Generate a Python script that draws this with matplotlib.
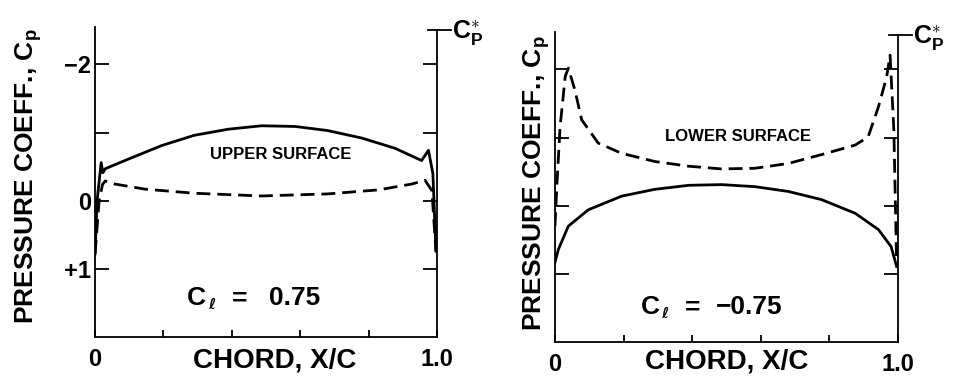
import matplotlib
matplotlib.use("Agg")
import matplotlib.pyplot as plt

plt.rcParams['font.family'] = ['Liberation Sans', 'DejaVu Sans']
plt.rcParams['font.weight'] = 'bold'
plt.rcParams['mathtext.fontset'] = 'custom'
plt.rcParams['mathtext.rm'] = 'Liberation Sans:bold'
plt.rcParams['mathtext.it'] = 'Liberation Sans:bold'
plt.rcParams['mathtext.bf'] = 'Liberation Sans:bold'
plt.rcParams['lines.scale_dashes'] = False

# ---- Cl = 0.75 : upper surface (solid), lower surface (dashed)
up1_x = [0.0, 0.006, 0.018, 0.023, 0.03, 0.097, 0.195, 0.29, 0.39, 0.487, 0.585,
         0.68, 0.78, 0.877, 0.955, 0.975, 0.988, 0.997]
up1_cp = [0.78, 0.0, -0.56, -0.41, -0.47, -0.61, -0.81, -0.96, -1.05, -1.10, -1.09,
          -1.03, -0.92, -0.77, -0.59, -0.74, -0.40, 0.74]
lo1_x = [0.0, 0.012, 0.022, 0.03, 0.058, 0.146, 0.29, 0.487, 0.68, 0.83, 0.926,
         0.965, 0.985, 0.997]
lo1_cp = [0.78, 0.0, -0.24, -0.29, -0.245, -0.17, -0.11, -0.07, -0.10, -0.16, -0.245,
          -0.30, -0.15, 0.74]

# ---- Cl = -0.75 : upper surface (dashed), lower surface (solid)
up2_x = [0.0, 0.006, 0.015, 0.03, 0.039, 0.058, 0.078, 0.126, 0.194, 0.29, 0.39,
         0.486, 0.583, 0.68, 0.777, 0.875, 0.913, 0.943, 0.967, 0.977, 0.988, 0.996]
up2_cp = [0.3, -0.34, -1.16, -1.9, -2.02, -1.70, -1.26, -0.92, -0.77, -0.65, -0.58,
          -0.54, -0.55, -0.62, -0.75, -0.89, -1.01, -1.45, -1.89, -2.21, -1.11, 0.83]
lo2_x = [0.0, 0.01, 0.039, 0.097, 0.194, 0.29, 0.39, 0.486, 0.583, 0.68, 0.777,
         0.875, 0.943, 0.98, 0.996]
lo2_cp = [0.83, 0.64, 0.30, 0.06, -0.14, -0.24, -0.30, -0.31, -0.28, -0.21, -0.09,
          0.11, 0.35, 0.60, 0.89]

cp_star = -2.5
y_ticks = [-2, -1, 0, 1]
y_ticklabels = ['\u22122', '', '0', '+1']
x_ticks = [0, 0.2, 0.4, 0.6, 0.8, 1.0]
x_ticklabels = ['0', '', '', '', '', '1.0']

fig = plt.figure(figsize=(9.56, 3.79), dpi=100)
ax1 = fig.add_axes([0.0994, 0.1108, 0.3577, 0.8180])
ax2 = fig.add_axes([0.5805, 0.0976, 0.3588, 0.8180])

LW = 2.0
DASH = (10, 5)


def style(ax, show_ylabels):
    ax.set_xlim(0, 1.0)
    ax.set_ylim(2.0, -2.55)
    ax.spines['top'].set_visible(False)
    for s in ['left', 'bottom', 'right']:
        ax.spines[s].set_linewidth(1.3)
    ax.spines['right'].set_bounds(2.0, cp_star)
    ax.set_xticks(x_ticks)
    ax.set_xticklabels(x_ticklabels, fontsize=17, fontweight='bold')
    ax.set_yticks(y_ticks)
    if show_ylabels:
        ax.set_yticklabels(y_ticklabels, fontsize=17, fontweight='bold')
    else:
        ax.set_yticklabels([])
    ax.tick_params(axis='y', direction='in', length=10, width=1.3, right=True, pad=3)
    ax.tick_params(axis='x', direction='in', length=5, width=1.3, pad=8)
    ax.set_xlabel('CHORD, X/C', fontsize=20, fontweight='bold', labelpad=-20)
    ax.set_ylabel('PRESSURE COEFF., C$_{\\mathrm{p}}$', fontsize=19, fontweight='bold')
    # critical pressure coefficient marker on the right axis
    ax.plot([0.975, 1.04], [cp_star, cp_star], color='black', lw=1.3, clip_on=False)
    ax.text(1.045, cp_star + 0.05, 'C$_{\\mathrm{P}}^{\\ast}$', fontsize=18, fontweight='bold',
            ha='left', va='center', transform=ax.transData, clip_on=False)


style(ax1, True)
style(ax2, False)
ax1.yaxis.set_label_coords(-0.15, 0.52)
ax2.yaxis.set_label_coords(-0.01, 0.513)
ax1.xaxis.set_label_coords(0.525, -0.035)

ax1.plot(up1_x, up1_cp, color='black', lw=LW, solid_joinstyle='round')
ax1.plot(lo1_x, lo1_cp, color='black', lw=LW, dashes=DASH)
ax1.text(0.544, -0.68, 'UPPER SURFACE', fontsize=12, fontweight='bold', ha='center', va='center')
ax1.text(0.27, 1.43, 'C', fontsize=19, fontweight='bold', ha='left', va='center')
ax1.text(0.33, 1.52, '\u2113', fontsize=11, fontweight='bold', ha='left', va='center',
         family=['DejaVu Sans'])
ax1.text(0.40, 1.43, '=', fontsize=19, fontweight='bold', ha='left', va='center')
ax1.text(0.51, 1.43, '0.75', fontsize=19, fontweight='bold', ha='left', va='center')

ax2.plot(up2_x, up2_cp, color='black', lw=LW, dashes=DASH)
ax2.plot(lo2_x, lo2_cp, color='black', lw=LW, solid_joinstyle='round')
ax2.text(0.534, -1.02, 'LOWER SURFACE', fontsize=12, fontweight='bold', ha='center', va='center')
ax2.text(0.25, 1.49, 'C', fontsize=19, fontweight='bold', ha='left', va='center')
ax2.text(0.31, 1.58, '\u2113', fontsize=11, fontweight='bold', ha='left', va='center',
         family=['DejaVu Sans'])
ax2.text(0.38, 1.49, '=', fontsize=19, fontweight='bold', ha='left', va='center')
ax2.text(0.47, 1.49, '\u22120.75', fontsize=19, fontweight='bold', ha='left', va='center')

fig.savefig('out.png', dpi=100)
